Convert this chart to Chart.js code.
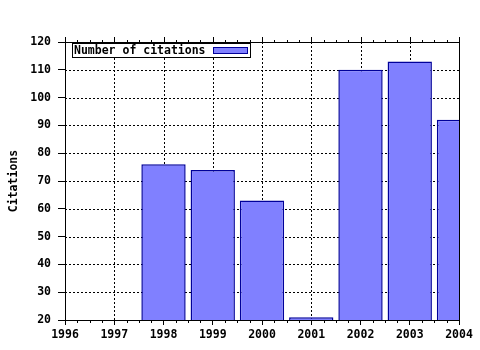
<!DOCTYPE html>
<html>
<head>
<meta charset="utf-8">
<script src="https://cdn.jsdelivr.net/npm/chart.js@4.4.1/dist/chart.umd.min.js"></script>
<style>
  html, body { margin: 0; padding: 0; background: #ffffff; }
  #wrap { width: 480px; height: 350px; position: relative; }
</style>
</head>
<body>
<div id="wrap"><canvas id="c" width="480" height="350"></canvas></div>
<script>
const years = ['1996', '1997', '1998', '1999', '2000', '2001', '2002', '2003', '2004'];
const citations = [null, null, 76, 74, 63, 21, 110, 113, 92];
const seriesLabel = 'Number of citations';
const yTitle = 'Citations';
const yMin = 20, yMax = 120, yStep = 10;

const FONT = { family: '"DejaVu Sans Mono", "Liberation Mono", monospace', size: 11.5, weight: 'bold' };
const FILL = '#8080ff';
const EDGE = '#00009a';

const framePlugin = {
  id: 'frame',
  beforeDatasetsDraw(chart) {
    const ctx = chart.ctx;
    const a = chart.chartArea;
    const xs = chart.scales.x, ys = chart.scales.y;
    ctx.save();
    ctx.strokeStyle = '#000';
    ctx.lineWidth = 1;
    ctx.setLineDash([2, 2]);
    ctx.beginPath();
    for (let i = 1; i < xs.ticks.length - 1; i++) {
      const p = Math.round(xs.getPixelForTick(i)) + 0.5;
      ctx.moveTo(p, a.bottom);
      ctx.lineTo(p, a.top);
    }
    for (let i = 1; i < ys.ticks.length - 1; i++) {
      const p = Math.round(ys.getPixelForTick(i)) + 0.5;
      ctx.moveTo(a.left, p);
      ctx.lineTo(a.right, p);
    }
    ctx.stroke();
    ctx.restore();
  },
  afterDatasetsDraw(chart) {
    const ctx = chart.ctx;
    const a = chart.chartArea;
    const xs = chart.scales.x;
    ctx.save();
    ctx.strokeStyle = '#000';
    ctx.lineWidth = 1;
    ctx.beginPath();
    ctx.moveTo(a.left, Math.round(a.top) + 0.5);
    ctx.lineTo(a.right + 1, Math.round(a.top) + 0.5);
    ctx.moveTo(Math.round(a.right) + 0.5, a.top);
    ctx.lineTo(Math.round(a.right) + 0.5, a.bottom);
    ctx.moveTo(a.left, Math.round(a.bottom) + 0.5);
    ctx.lineTo(a.right + 1, Math.round(a.bottom) + 0.5);
    ctx.stroke();
    const n = xs.ticks.length;
    ctx.beginPath();
    for (let i = 0; i < n; i++) {
      const p0 = xs.getPixelForTick(i);
      const p = Math.round(p0) + 0.5;
      ctx.moveTo(p, a.top - 5);
      ctx.lineTo(p, a.top);
      if (i < n - 1) {
        const q = xs.getPixelForTick(i + 1);
        for (let k = 1; k < 4; k++) {
          const m = Math.round(p0 + (q - p0) * k / 4) + 0.5;
          ctx.moveTo(m, a.bottom);
          ctx.lineTo(m, a.bottom + 3);
          ctx.moveTo(m, a.top - 2);
          ctx.lineTo(m, a.top + 1);
        }
      }
    }
    ctx.stroke();
    ctx.restore();
  },
  afterDraw(chart) {
    const ctx = chart.ctx;
    const a = chart.chartArea;
    const ds = chart.data.datasets[0];
    ctx.save();
    ctx.font = FONT.weight + ' ' + FONT.size + 'px ' + FONT.family;
    const tw = ctx.measureText(ds.label).width;
    const bx = Math.round(a.left) + 7.5, by = Math.round(a.top) + 1.5;
    const bw = Math.round(tw) + 46, bh = 14;
    ctx.fillStyle = '#fff';
    ctx.fillRect(bx, by, bw, bh);
    ctx.strokeStyle = '#000';
    ctx.lineWidth = 1;
    ctx.strokeRect(bx, by, bw, bh);
    ctx.fillStyle = '#000';
    ctx.textBaseline = 'middle';
    ctx.textAlign = 'left';
    ctx.fillText(ds.label, bx + 1.5, by + bh / 2 + 0.5);
    const sx = bx + bw - 37, sy = by + 4;
    ctx.fillStyle = ds.backgroundColor;
    ctx.fillRect(sx, sy, 34, 6);
    ctx.strokeStyle = ds.borderColor;
    ctx.strokeRect(sx, sy, 34, 6);
    ctx.restore();
  }
};

new Chart(document.getElementById('c'), {
  type: 'bar',
  data: {
    labels: years,
    datasets: [{
      label: seriesLabel,
      data: citations,
      backgroundColor: FILL,
      borderColor: EDGE,
      borderWidth: 1.5,
      borderSkipped: 'start',
      categoryPercentage: 1,
      barPercentage: 0.9,
      clip: 0
    }]
  },
  options: {
    responsive: false,
    animation: false,
    devicePixelRatio: 1,
    layout: { padding: { left: 0, right: 21, top: 42, bottom: 6 } },
    plugins: { legend: { display: false }, tooltip: { enabled: false } },
    scales: {
      x: {
        type: 'category',
        offset: false,
        grid: {
          offset: false,
          drawOnChartArea: false,
          color: '#000',
          lineWidth: 1,
          tickLength: 5,
          tickColor: '#000'
        },
        border: { display: true, color: '#000', width: 1 },
        ticks: { color: '#000', font: FONT, padding: 3, autoSkip: false, maxRotation: 0 },
        afterFit(s) { s.height = 24; }
      },
      y: {
        min: yMin,
        max: yMax,
        grid: { drawOnChartArea: false, color: '#000', lineWidth: 1, tickLength: 7, tickColor: '#000' },
        border: { display: true, color: '#000', width: 1 },
        ticks: { stepSize: yStep, color: '#000', font: FONT, padding: 7 },
        title: { display: true, text: yTitle, color: '#000', font: FONT, padding: { top: 7, bottom: 0 } },
        afterFit(s) { s.width = 65; }
      }
    }
  },
  plugins: [framePlugin]
});
</script>
</body>
</html>
